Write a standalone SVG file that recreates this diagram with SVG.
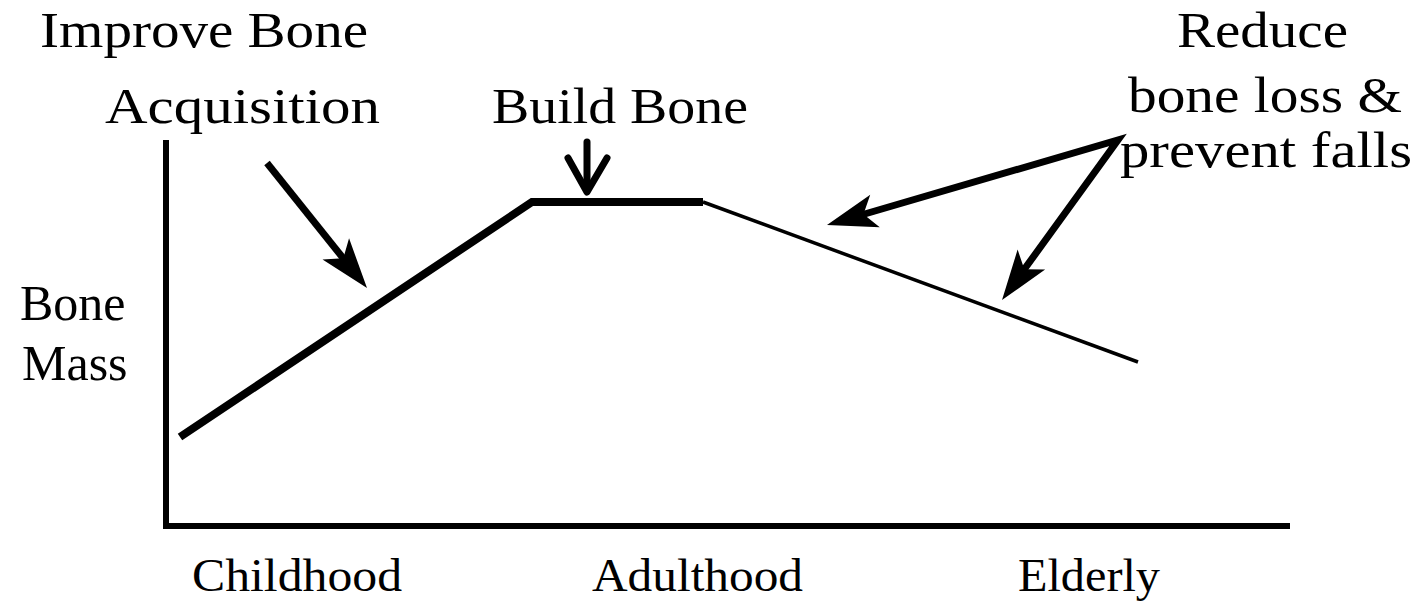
<svg xmlns="http://www.w3.org/2000/svg" width="1424" height="601" viewBox="0 0 1424 601">
  <style>
    .serif { font-family: "Liberation Serif", "Times New Roman", serif; fill: #000; }
    .lbl { font-size: 50px; }
    .axis-lbl { font-size: 46px; }
    .axis { stroke: #000; stroke-width: 6; fill: none; stroke-linecap: square; }
    .curve-up { stroke: #000; stroke-width: 8; fill: none; stroke-linejoin: miter; }
    .curve-down { stroke: #000; stroke-width: 3.5; fill: none; }
    .arrow { stroke: #000; stroke-width: 7; fill: none; stroke-linejoin: miter; }
    .chevron { stroke: #000; stroke-width: 7; fill: none; stroke-linecap: round; stroke-linejoin: round; }
  </style>
  <defs>
    <marker id="head" viewBox="-30 -20 60 40" refX="0" refY="0" markerWidth="60" markerHeight="40" markerUnits="userSpaceOnUse" orient="auto-start-reverse">
      <path d="M25,0 L-25,-17 L-13,0 L-25,17 Z" fill="#000"/>
    </marker>
  </defs>
  <rect width="1424" height="601" fill="#fff"/>

  <!-- axes -->
  <g id="axes">
    <polyline class="axis" points="166,143 166,526 1287,526"/>
  </g>

  <!-- bone mass curve -->
  <g id="curve">
    <polyline class="curve-up" points="180,437 532,202 703,202"/>
    <line class="curve-down" x1="703" y1="202" x2="1138" y2="362"/>
  </g>

  <!-- text labels -->
  <g id="improve-label">
    <text class="serif lbl" x="40" y="47" textLength="328" lengthAdjust="spacingAndGlyphs">Improve Bone</text>
    <text class="serif lbl" x="105" y="123" textLength="275" lengthAdjust="spacingAndGlyphs">Acquisition</text>
  </g>
  <g id="build-label">
    <text class="serif lbl" x="492" y="123" textLength="256" lengthAdjust="spacingAndGlyphs">Build Bone</text>
  </g>
  <g id="reduce-label">
    <text class="serif lbl" x="1177" y="47" textLength="171" lengthAdjust="spacingAndGlyphs">Reduce</text>
    <text class="serif lbl" x="1128" y="112" textLength="274" lengthAdjust="spacingAndGlyphs">bone loss &amp;</text>
    <text class="serif lbl" x="1120" y="167" textLength="292" lengthAdjust="spacingAndGlyphs">prevent falls</text>
  </g>
  <g id="y-label">
    <text class="serif lbl" x="20" y="320">Bone</text>
    <text class="serif lbl" x="22" y="380">Mass</text>
  </g>
  <g id="x-labels">
    <text class="serif axis-lbl" x="192" y="591" textLength="210" lengthAdjust="spacingAndGlyphs">Childhood</text>
    <text class="serif axis-lbl" x="592" y="591" textLength="211" lengthAdjust="spacingAndGlyphs">Adulthood</text>
    <text class="serif axis-lbl" x="1018" y="591" textLength="142" lengthAdjust="spacingAndGlyphs">Elderly</text>
  </g>

  <!-- connectors -->
  <g id="connectors">
    <line class="arrow" x1="267" y1="163" x2="351.4" y2="268.5" marker-end="url(#head)"/>
    <g id="build-arrow">
      <line class="chevron" x1="587" y1="142" x2="587" y2="190"/>
      <polyline class="chevron" points="568,158 587,192 607,158"/>
    </g>
    <path class="arrow" d="M851,218 L1118,140 L1016.7,279.8" marker-start="url(#head)" marker-end="url(#head)"/>
  </g>
</svg>
